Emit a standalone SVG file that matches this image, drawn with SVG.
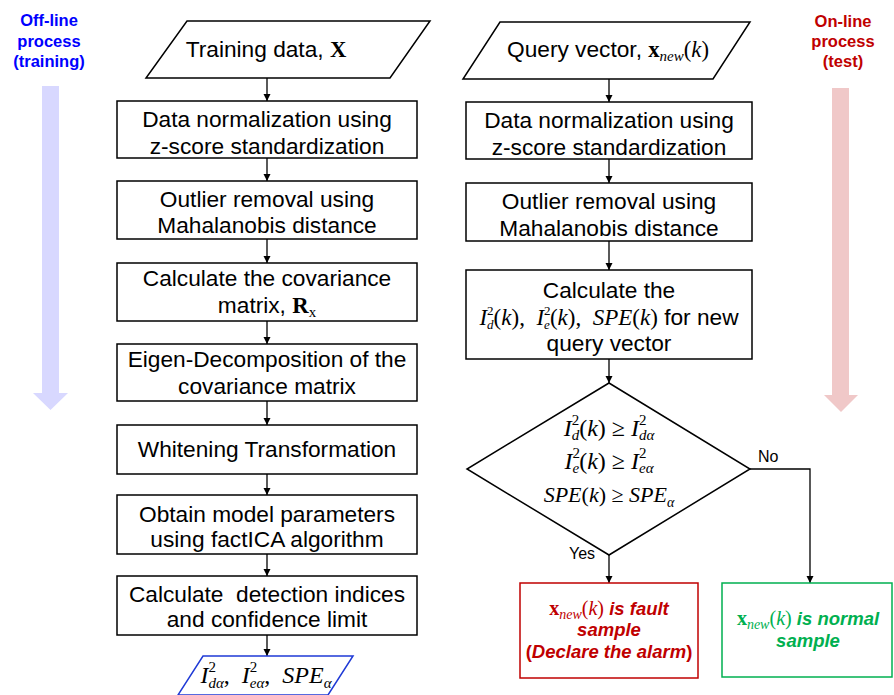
<svg xmlns="http://www.w3.org/2000/svg" width="894" height="695" viewBox="0 0 894 695">
  <defs>
    <marker id="arr" viewBox="0 0 10 10" refX="10" refY="5" markerWidth="7" markerHeight="8" markerUnits="userSpaceOnUse" orient="auto">
      <path d="M0,0 L10,5 L0,10 Z" fill="#000"/>
    </marker>
    <style>
      .box { fill: #fff; stroke: #000; stroke-width: 1.5; }
      .t { font-family: "Liberation Sans", Arial, sans-serif; font-size: 22.7px; fill: #000; text-anchor: middle; }
      .m { font-family: "Liberation Serif", "Times New Roman", serif; font-size: 24px; fill: #000; text-anchor: middle; }
      .m2 { font-family: "Liberation Serif", "Times New Roman", serif; font-size: 22px; fill: #000; text-anchor: middle; }
      .i { font-style: italic; }
      .b { font-weight: bold; }
      .s { font-size: 15px; }
      .serif { font-family: "Liberation Serif", "Times New Roman", serif; }
      .edge { fill: none; stroke: #000; stroke-width: 1.3; }
      .head { font-family: "Liberation Sans", Arial, sans-serif; font-size: 16.5px; font-weight: bold; text-anchor: middle; }
      .lbl { font-family: "Liberation Sans", Arial, sans-serif; font-size: 16px; fill: #000; }
      .res { font-family: "Liberation Sans", Arial, sans-serif; font-size: 18.5px; font-weight: bold; font-style: italic; text-anchor: middle; }
      .rm { font-family: "Liberation Serif", "Times New Roman", serif; font-weight: normal; font-size: 20px; }
      .rm.bx { font-weight: bold; font-style: normal; }
      .rm.up { font-style: normal; }
    </style>
  </defs>

  <!-- process-direction banners -->
  <g id="offline-banner">
    <text class="head" fill="#0000ff" x="49" y="26">Off-line</text>
    <text class="head" fill="#0000ff" x="49" y="47">process</text>
    <text class="head" fill="#0000ff" x="49" y="67">(training)</text>
    <path d="M42,86 H59 V393 H68 L50.5,410 L33,393 H42 Z" fill="#d8d8ff"/>
  </g>
  <g id="online-banner">
    <text class="head" fill="#c00000" x="843" y="27">On-line</text>
    <text class="head" fill="#c00000" x="843" y="47">process</text>
    <text class="head" fill="#c00000" x="843" y="67">(test)</text>
    <path d="M832,88 H849 V395 H858 L841,412 L824,395 H832 Z" fill="#f0c8c8"/>
  </g>

  <!-- connectors -->
  <g id="connectors">
    <line class="edge" x1="267" y1="78" x2="267" y2="101" marker-end="url(#arr)"/>
    <line class="edge" x1="267" y1="158" x2="267" y2="181" marker-end="url(#arr)"/>
    <line class="edge" x1="267" y1="239" x2="267" y2="263" marker-end="url(#arr)"/>
    <line class="edge" x1="267" y1="321" x2="267" y2="344" marker-end="url(#arr)"/>
    <line class="edge" x1="267" y1="401" x2="267" y2="425" marker-end="url(#arr)"/>
    <line class="edge" x1="267" y1="474" x2="267" y2="495" marker-end="url(#arr)"/>
    <line class="edge" x1="267" y1="554" x2="267" y2="576" marker-end="url(#arr)"/>
    <line class="edge" x1="267" y1="635" x2="267" y2="656" marker-end="url(#arr)"/>

    <line class="edge" x1="609" y1="79" x2="609" y2="102" marker-end="url(#arr)"/>
    <line class="edge" x1="609" y1="159" x2="609" y2="183" marker-end="url(#arr)"/>
    <line class="edge" x1="609" y1="241" x2="609" y2="270" marker-end="url(#arr)"/>
    <line class="edge" x1="609" y1="359" x2="609" y2="383" marker-end="url(#arr)"/>
    <line class="edge" x1="609" y1="555" x2="609" y2="583" marker-end="url(#arr)"/>
    <polyline class="edge" points="750,469 810,469 810,583" marker-end="url(#arr)"/>
    <text class="lbl" x="569" y="559">Yes</text>
    <text class="lbl" x="758" y="462">No</text>
  </g>

  <!-- off-line training column -->
  <g id="training-data">
    <polygon class="box" points="187,21 430,21 390,78 146,78"/>
    <text class="t" x="266" y="57">Training data, <tspan class="serif b">X</tspan></text>
  </g>
  <g id="normalize-train">
    <rect class="box" x="117" y="101" width="300" height="57"/>
    <text class="t" x="267" y="127">Data normalization using</text>
    <text class="t" x="267" y="154">z-score standardization</text>
  </g>
  <g id="outlier-train">
    <rect class="box" x="117" y="181" width="300" height="58"/>
    <text class="t" x="267" y="207">Outlier removal using</text>
    <text class="t" x="267" y="233">Mahalanobis distance</text>
  </g>
  <g id="covariance">
    <rect class="box" x="117" y="263" width="300" height="58"/>
    <text class="t" x="267" y="286">Calculate the covariance</text>
    <text class="t" x="267" y="313">matrix, <tspan class="serif b">R</tspan><tspan class="serif s" dy="4">x</tspan></text>
  </g>
  <g id="eigen">
    <rect class="box" x="117" y="344" width="300" height="57"/>
    <text class="t" x="267" y="367">Eigen-Decomposition of the</text>
    <text class="t" x="267" y="394">covariance matrix</text>
  </g>
  <g id="whitening">
    <rect class="box" x="117" y="425" width="300" height="49"/>
    <text class="t" x="267" y="457">Whitening Transformation</text>
  </g>
  <g id="fastica">
    <rect class="box" x="117" y="495" width="300" height="59"/>
    <text class="t" x="267" y="522">Obtain model parameters</text>
    <text class="t" x="267" y="547">using factICA algorithm</text>
  </g>
  <g id="indices">
    <rect class="box" x="117" y="576" width="300" height="59"/>
    <text class="t" x="267" y="602" xml:space="preserve">Calculate  detection indices</text>
    <text class="t" x="267" y="627">and confidence limit</text>
  </g>
  <g id="limits">
    <polygon points="203,656 353,656 328,695 178,695" fill="#fff" stroke="#1f3ad6" stroke-width="1.5"/>
    <text class="m" x="266" y="683" fill="#1f3ad6"><tspan class="i">I</tspan><tspan class="s" dy="-11">2</tspan><tspan class="s i" dx="-7.5" dy="16">dα</tspan><tspan dy="-5" xml:space="preserve">,  </tspan><tspan class="i">I</tspan><tspan class="s" dy="-11">2</tspan><tspan class="s i" dx="-7.5" dy="16">eα</tspan><tspan dy="-5" xml:space="preserve">,  </tspan><tspan class="i">SPE</tspan><tspan class="s i" dy="5">α</tspan></text>
  </g>

  <!-- on-line test column -->
  <g id="query">
    <polygon class="box" points="500,22 750,22 713,79 463,79"/>
    <text class="t" x="608" y="57">Query vector, <tspan class="serif b">x</tspan><tspan class="serif i s" dy="4">new</tspan><tspan class="serif" dy="-4">(</tspan><tspan class="serif i">k</tspan><tspan class="serif">)</tspan></text>
  </g>
  <g id="normalize-test">
    <rect class="box" x="466" y="102" width="286" height="57"/>
    <text class="t" x="609" y="128">Data normalization using</text>
    <text class="t" x="609" y="155">z-score standardization</text>
  </g>
  <g id="outlier-test">
    <rect class="box" x="466" y="183" width="286" height="58"/>
    <text class="t" x="609" y="209">Outlier removal using</text>
    <text class="t" x="609" y="236">Mahalanobis distance</text>
  </g>
  <g id="statistics">
    <rect class="box" x="466" y="270" width="286" height="89"/>
    <text class="t" x="609" y="298">Calculate the</text>
    <text class="t" x="609" y="325" xml:space="preserve"><tspan class="serif i" style="font-size:23px">I</tspan><tspan class="serif" style="font-size:13px" dy="-10">2</tspan><tspan class="serif i" style="font-size:13px" dx="-6.5" dy="14">d</tspan><tspan class="serif" style="font-size:23px" dy="-4">(</tspan><tspan class="serif i" style="font-size:23px">k</tspan><tspan class="serif" style="font-size:23px">),  </tspan><tspan class="serif i" style="font-size:23px">I</tspan><tspan class="serif" style="font-size:13px" dy="-10">2</tspan><tspan class="serif i" style="font-size:13px" dx="-6.5" dy="14">e</tspan><tspan class="serif" style="font-size:23px" dy="-4">(</tspan><tspan class="serif i" style="font-size:23px">k</tspan><tspan class="serif" style="font-size:23px">),  </tspan><tspan class="serif i" style="font-size:23px">SPE</tspan><tspan class="serif" style="font-size:23px">(</tspan><tspan class="serif i" style="font-size:23px">k</tspan><tspan class="serif" style="font-size:23px">)</tspan> for new</text>
    <text class="t" x="609" y="351">query vector</text>
  </g>
  <g id="decision">
    <polygon class="box" points="609,383 750,469 609,555 467,469"/>
    <text class="m" x="609" y="436"><tspan class="i">I</tspan><tspan class="s" dy="-11">2</tspan><tspan class="s i" dx="-7.5" dy="15">d</tspan><tspan dy="-4">(</tspan><tspan class="i">k</tspan>) ≥ <tspan class="i">I</tspan><tspan class="s" dy="-11">2</tspan><tspan class="s i" dx="-7.5" dy="15">dα</tspan></text>
    <text class="m" x="609" y="469"><tspan class="i">I</tspan><tspan class="s" dy="-11">2</tspan><tspan class="s i" dx="-7.5" dy="15">e</tspan><tspan dy="-4">(</tspan><tspan class="i">k</tspan>) ≥ <tspan class="i">I</tspan><tspan class="s" dy="-11">2</tspan><tspan class="s i" dx="-7.5" dy="15">eα</tspan></text>
    <text class="m2" x="609" y="502"><tspan class="i">SPE</tspan>(<tspan class="i">k</tspan>) ≥ <tspan class="i">SPE</tspan><tspan class="i" style="font-size:14px" dy="5">α</tspan></text>
  </g>
  <g id="fault">
    <rect x="520" y="583" width="178" height="95" fill="#fff" stroke="#c00000" stroke-width="1.5"/>
    <text class="res" x="609" y="615" fill="#c00000"><tspan class="rm bx">x</tspan><tspan class="rm" style="font-size:14px" dy="4">new</tspan><tspan class="rm up" dy="-4">(</tspan><tspan class="rm">k</tspan><tspan class="rm up">)</tspan> is fault</text>
    <text class="res" x="609" y="636" fill="#c00000">sample</text>
    <text class="res" x="609" y="658" fill="#c00000"><tspan style="font-style:normal">(</tspan>Declare the alarm<tspan style="font-style:normal">)</tspan></text>
  </g>
  <g id="normal">
    <rect x="722" y="583" width="170" height="94" fill="#fff" stroke="#00b050" stroke-width="1.5"/>
    <text class="res" x="808" y="625" fill="#00b050"><tspan class="rm bx">x</tspan><tspan class="rm" style="font-size:14px" dy="4">new</tspan><tspan class="rm up" dy="-4">(</tspan><tspan class="rm">k</tspan><tspan class="rm up">)</tspan> is normal</text>
    <text class="res" x="808" y="647" fill="#00b050">sample</text>
  </g>
</svg>
